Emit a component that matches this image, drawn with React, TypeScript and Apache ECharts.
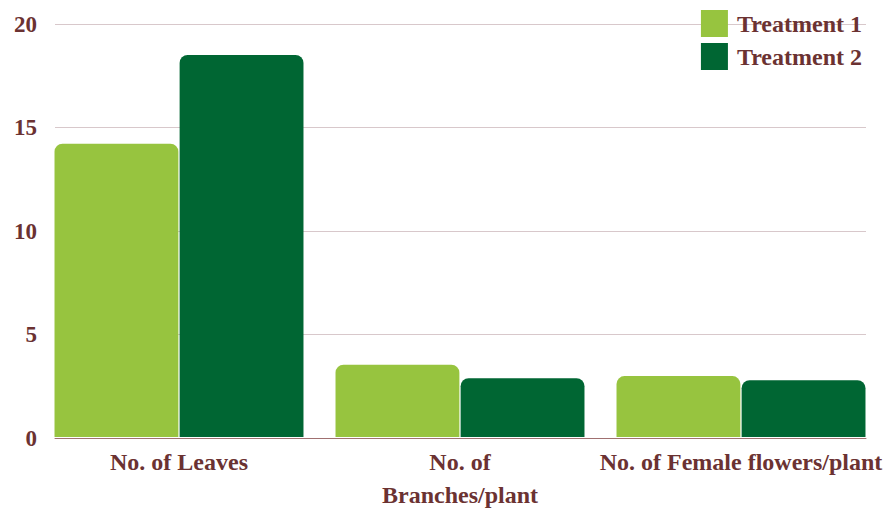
import React, { useEffect, useRef } from "react";
import * as echarts from "echarts";

const categories = ["No. of Leaves", "No. of\nBranches/plant", "No. of Female flowers/plant"];
const treatment1 = [14.2, 3.5, 2.95];
const treatment2 = [18.5, 2.85, 2.75];
const yTicks = { min: 0, max: 20, interval: 5 };

const TEXT = "#6B3232";
const FONT = "Liberation Serif";

export default function App() {
  const ref = useRef<HTMLDivElement>(null);
  useEffect(() => {
    const chart = echarts.init(ref.current!, undefined, { renderer: "svg" });
    chart.setOption({
      animation: false,
      legend: {
        orient: "vertical",
        right: 24,
        top: 5,
        itemWidth: 27,
        itemHeight: 27,
        itemGap: 6,
        icon: "rect",
        textStyle: {
          color: TEXT,
          fontFamily: FONT,
          fontWeight: "bold",
          fontSize: 24,
          padding: [0, 0, 0, 4],
        },
        data: ["Treatment 1", "Treatment 2"],
      },
      grid: [
        { left: 55, right: 25, top: 24, bottom: 73 },
        { left: 38.5, right: 9.5, top: 24, bottom: 73 },
      ],
      xAxis: [
        {
          gridIndex: 0,
          type: "category",
          data: categories,
          axisLine: { show: true, lineStyle: { color: "#A07070", width: 1 } },
          axisTick: { show: false },
          axisLabel: { show: false },
        },
        {
          gridIndex: 1,
          type: "category",
          data: categories,
          axisLine: { show: false },
          axisTick: { show: false },
          axisLabel: {
            interval: 0,
            color: TEXT,
            fontFamily: FONT,
            fontWeight: "bold",
            fontSize: 24,
            margin: 8,
            lineHeight: 33,
          },
        },
      ],
      yAxis: [
        {
          gridIndex: 0,
          type: "value",
          min: yTicks.min,
          max: yTicks.max,
          interval: yTicks.interval,
          axisLine: { show: false },
          axisTick: { show: false },
          splitLine: { lineStyle: { color: "#D8C8CB", width: 1 } },
          axisLabel: {
            color: TEXT,
            fontFamily: FONT,
            fontWeight: "bold",
            fontSize: 23,
            margin: 18,
          },
        },
        {
          gridIndex: 1,
          type: "value",
          min: yTicks.min,
          max: yTicks.max,
          interval: yTicks.interval,
          show: false,
          splitLine: { show: false },
        },
      ],
      series: [
        {
          name: "Treatment 1",
          type: "bar",
          xAxisIndex: 1,
          yAxisIndex: 1,
          data: treatment1,
          barGap: "1%",
          barCategoryGap: "11.4%",
          itemStyle: { color: "#97C43F", borderRadius: [8, 8, 0, 0] },
        },
        {
          name: "Treatment 2",
          type: "bar",
          xAxisIndex: 1,
          yAxisIndex: 1,
          data: treatment2,
          barGap: "1%",
          barCategoryGap: "11.4%",
          itemStyle: { color: "#006633", borderRadius: [8, 8, 0, 0] },
        },
      ],
    });
    return () => chart.dispose();
  }, []);
  return <div ref={ref} style={{ width: 891, height: 511, position: "absolute", left: 0, top: 0 }} />;
}
